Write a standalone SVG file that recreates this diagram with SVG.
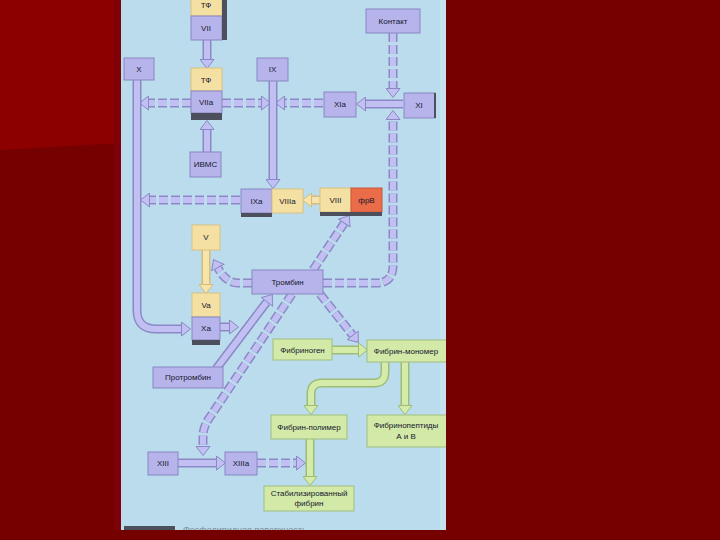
<svg xmlns="http://www.w3.org/2000/svg" width="720" height="540" viewBox="0 0 720 540">
<defs>
<style>
.lav{fill:#b6b4ea;stroke:#8886c2;stroke-width:1}
.yel{fill:#f5e0a4;stroke:#d8c080;stroke-width:1}
.grn{fill:#d3e9a8;stroke:#9fbf7c;stroke-width:1}
.org{fill:#ea6c48;stroke:#c85a3a;stroke-width:1}
.bar{fill:#4c505c}
.t{font-family:"Liberation Sans",Arial,sans-serif;font-size:8px;fill:#15172e;text-anchor:middle}
.po{fill:none;stroke:#8a88c6;stroke-width:9}
.pi{fill:none;stroke:#c2c0f2;stroke-width:6}
.yo{fill:none;stroke:#d4bc7c;stroke-width:9}
.yi{fill:none;stroke:#f7e4aa;stroke-width:6}
.go{fill:none;stroke:#9cbc78;stroke-width:9}
.gi{fill:none;stroke:#d5eba9;stroke-width:6}
.d{stroke-dasharray:9 3}
</style>
<marker id="ahL" viewBox="0 0 10 15" refX="0" refY="7.5" markerWidth="10" markerHeight="15" markerUnits="userSpaceOnUse" orient="auto">
<path d="M0.5,0.5 L9.5,7.5 L0.5,14.5 z" fill="#c2c0f2" stroke="#8a88c6" stroke-width="1"/>
</marker>
<marker id="ahY" viewBox="0 0 10 15" refX="0" refY="7.5" markerWidth="10" markerHeight="15" markerUnits="userSpaceOnUse" orient="auto">
<path d="M0.5,0.5 L9.5,7.5 L0.5,14.5 z" fill="#f7e4aa" stroke="#d4bc7c" stroke-width="1"/>
</marker>
<marker id="ahG" viewBox="0 0 10 15" refX="0" refY="7.5" markerWidth="10" markerHeight="15" markerUnits="userSpaceOnUse" orient="auto">
<path d="M0.5,0.5 L9.5,7.5 L0.5,14.5 z" fill="#d5eba9" stroke="#9cbc78" stroke-width="1"/>
</marker>
<clipPath id="panel"><rect x="121" y="0" width="325" height="530"/></clipPath>
</defs>

<g id="background">
<rect x="0" y="0" width="720" height="540" fill="#740000"/>
<polygon points="0,0 121,0 121,143 0,150" fill="#8c0000"/>
<rect x="114" y="0" width="7" height="530" fill="#7e0008"/>
<rect x="121" y="0" width="325" height="530" fill="#badcec"/>
<rect x="440" y="0" width="6" height="530" fill="#c6e2f0"/>
</g>

<g clip-path="url(#panel)">
<g id="connectors">
<path class="po" d="M207,40 L207,59"/><path class="pi" d="M207,40 L207,59" marker-end="url(#ahL)"/>
<path class="po" d="M207,152 L207,130"/><path class="pi" d="M207,152 L207,130" marker-end="url(#ahL)"/>
<path class="po d" d="M191,103 L149,103"/><path class="pi d" d="M191,103 L149,103" marker-end="url(#ahL)"/>
<path class="po d" d="M222,103 L261,103"/><path class="pi d" d="M222,103 L261,103" marker-end="url(#ahL)"/>
<path class="po d" d="M323,103 L285,103"/><path class="pi d" d="M323,103 L285,103" marker-end="url(#ahL)"/>
<path class="po" d="M403,104 L366,104"/><path class="pi" d="M403,104 L366,104" marker-end="url(#ahL)"/>
<path class="po d" d="M393,33 L393,88"/><path class="pi d" d="M393,33 L393,88" marker-end="url(#ahL)"/>
<path class="po d" d="M323,283 L376,283 Q393,283 393,266 L393,120"/><path class="pi d" d="M323,283 L376,283 Q393,283 393,266 L393,120" marker-end="url(#ahL)"/>
<path class="po" d="M137,80 L137,310 Q137,329 156,329 L181,329"/><path class="pi" d="M137,80 L137,310 Q137,329 156,329 L181,329" marker-end="url(#ahL)"/>
<path class="po" d="M273,81 L273,179"/><path class="pi" d="M273,81 L273,179" marker-end="url(#ahL)"/>
<path class="po d" d="M240,200 L150,200"/><path class="pi d" d="M240,200 L150,200" marker-end="url(#ahL)"/>
<path class="yo" d="M320,200 L312,200"/><path class="yi" d="M320,200 L312,200" marker-end="url(#ahY)"/>
<path class="yo" d="M206,250 L206,284"/><path class="yi" d="M206,250 L206,284" marker-end="url(#ahY)"/>
<path class="po" d="M220,327 L229,327"/><path class="pi" d="M220,327 L229,327" marker-end="url(#ahL)"/>
<path class="po" d="M216,369 L266.6,302.2"/><path class="pi" d="M216,369 L266.6,302.2" marker-end="url(#ahL)"/>
<path class="po d" d="M313,270 L344,223.5"/><path class="pi d" d="M313,270 L344,223.5" marker-end="url(#ahL)"/>
<path class="po d" d="M320,294 L352.4,334.9"/><path class="pi d" d="M320,294 L352.4,334.9" marker-end="url(#ahL)"/>
<path class="po d" d="M252,283 L238,283 Q226,283 218,268"/><path class="pi d" d="M252,283 L238,283 Q226,283 218,268" marker-end="url(#ahL)"/>
<path class="po d" d="M292,294 L208,420 Q203,428 203,436 L203,446"/><path class="pi d" d="M292,294 L208,420 Q203,428 203,436 L203,446" marker-end="url(#ahL)"/>
<path class="po" d="M178,463 L216,463"/><path class="pi" d="M178,463 L216,463" marker-end="url(#ahL)"/>
<path class="po d" d="M257,463 L296,463"/><path class="pi d" d="M257,463 L296,463" marker-end="url(#ahL)"/>
<path class="go" d="M332,350 L358,350"/><path class="gi" d="M332,350 L358,350" marker-end="url(#ahG)"/>
<path class="go" d="M385,362 L385,372 Q385,383 374,383 L322,383 Q311,383 311,394 L311,405"/><path class="gi" d="M385,362 L385,372 Q385,383 374,383 L322,383 Q311,383 311,394 L311,405" marker-end="url(#ahG)"/>
<path class="go" d="M405,362 L405,405"/><path class="gi" d="M405,362 L405,405" marker-end="url(#ahG)"/>
<path class="go" d="M310,439 L310,476"/><path class="gi" d="M310,439 L310,476" marker-end="url(#ahG)"/>
</g>

<g id="tf_vii">
<rect class="yel" x="191" y="-2" width="31" height="18"/>
<rect class="lav" x="191" y="16" width="31" height="24"/>
<rect class="bar" x="222" y="0" width="5" height="40"/>
<text class="t" x="206" y="8">ТФ</text>
<text class="t" x="206" y="31">VII</text>
</g>
<g id="tf_viia">
<rect class="yel" x="191" y="68" width="31" height="23"/>
<rect class="lav" x="191" y="91" width="31" height="22"/>
<rect class="bar" x="191" y="113" width="31" height="7"/>
<text class="t" x="206" y="83">ТФ</text>
<text class="t" x="206" y="105">VIIa</text>
</g>
<g id="ivms">
<rect class="lav" x="190" y="152" width="31" height="25"/>
<text class="t" x="205.5" y="167">ИВМС</text>
</g>
<g id="x">
<rect class="lav" x="124" y="58" width="30" height="22"/>
<text class="t" x="139" y="72">X</text>
</g>
<g id="ix">
<rect class="lav" x="257" y="58" width="31" height="23"/>
<text class="t" x="272.5" y="72">IX</text>
</g>
<g id="xia">
<rect class="lav" x="324" y="92" width="32" height="25"/>
<text class="t" x="340" y="107">XIa</text>
</g>
<g id="xi">
<rect class="lav" x="404" y="93" width="31" height="25"/>
<rect class="bar" x="434" y="93" width="2" height="25"/>
<text class="t" x="419" y="108">XI</text>
</g>
<g id="kontakt">
<rect class="lav" x="366" y="9" width="54" height="24"/>
<text class="t" x="393" y="24">Контакт</text>
</g>
<g id="ixa_viiia">
<rect class="lav" x="241" y="189" width="31" height="24"/>
<rect class="yel" x="272" y="189" width="31" height="24"/>
<rect class="bar" x="241" y="213" width="31" height="4"/>
<text class="t" x="256.5" y="204">IXa</text>
<text class="t" x="287.5" y="204">VIIIa</text>
</g>
<g id="viii_frv">
<rect class="yel" x="320" y="188" width="31" height="24"/>
<rect class="org" x="351" y="188" width="31" height="24"/>
<rect class="bar" x="320" y="212" width="62" height="4"/>
<text class="t" x="335.5" y="203">VIII</text>
<text class="t" x="366.5" y="203">фрВ</text>
</g>
<g id="v">
<rect class="yel" x="192" y="225" width="28" height="25"/>
<text class="t" x="206" y="240">V</text>
</g>
<g id="va_xa">
<rect class="yel" x="192" y="293" width="28" height="24"/>
<rect class="lav" x="192" y="317" width="28" height="23"/>
<rect class="bar" x="192" y="340" width="28" height="5"/>
<text class="t" x="206" y="308">Va</text>
<text class="t" x="206" y="331">Xa</text>
</g>
<g id="trombin">
<rect class="lav" x="252" y="270" width="71" height="24"/>
<text class="t" x="287.5" y="285">Тромбин</text>
</g>
<g id="protrombin">
<rect class="lav" x="153" y="367" width="70" height="21"/>
<text class="t" x="188" y="380">Протромбин</text>
</g>
<g id="xiii">
<rect class="lav" x="148" y="452" width="30" height="23"/>
<text class="t" x="163" y="466">XIII</text>
</g>
<g id="xiiia">
<rect class="lav" x="225" y="452" width="32" height="23"/>
<text class="t" x="241" y="466">XIIIa</text>
</g>
<g id="fibrinogen">
<rect class="grn" x="273" y="339" width="59" height="21"/>
<text class="t" x="302.5" y="353">Фибриноген</text>
</g>
<g id="fibrin_monomer">
<rect class="grn" x="367" y="340" width="80" height="22"/>
<text class="t" x="406" y="354">Фибрин-мономер</text>
</g>
<g id="fibrin_polymer">
<rect class="grn" x="271" y="415" width="76" height="24"/>
<text class="t" x="309" y="430">Фибрин-полимер</text>
</g>
<g id="fibrinopeptides">
<rect class="grn" x="367" y="415" width="80" height="32"/>
<text class="t" x="406" y="428">Фибринопептиды</text>
<text class="t" x="406" y="439">А и В</text>
</g>
<g id="stabilized">
<rect class="grn" x="264" y="486" width="90" height="25"/>
<text class="t" x="309" y="496">Стабилизированный</text>
<text class="t" x="309" y="506">фибрин</text>
</g>
<g id="legend">
<rect class="bar" x="124" y="526" width="51" height="6"/>
<text x="183" y="533" font-family="'Liberation Sans',Arial,sans-serif" font-size="9px" fill="#7c8a96">Фосфолипидная поверхность</text>
</g>
</g>
</svg>
